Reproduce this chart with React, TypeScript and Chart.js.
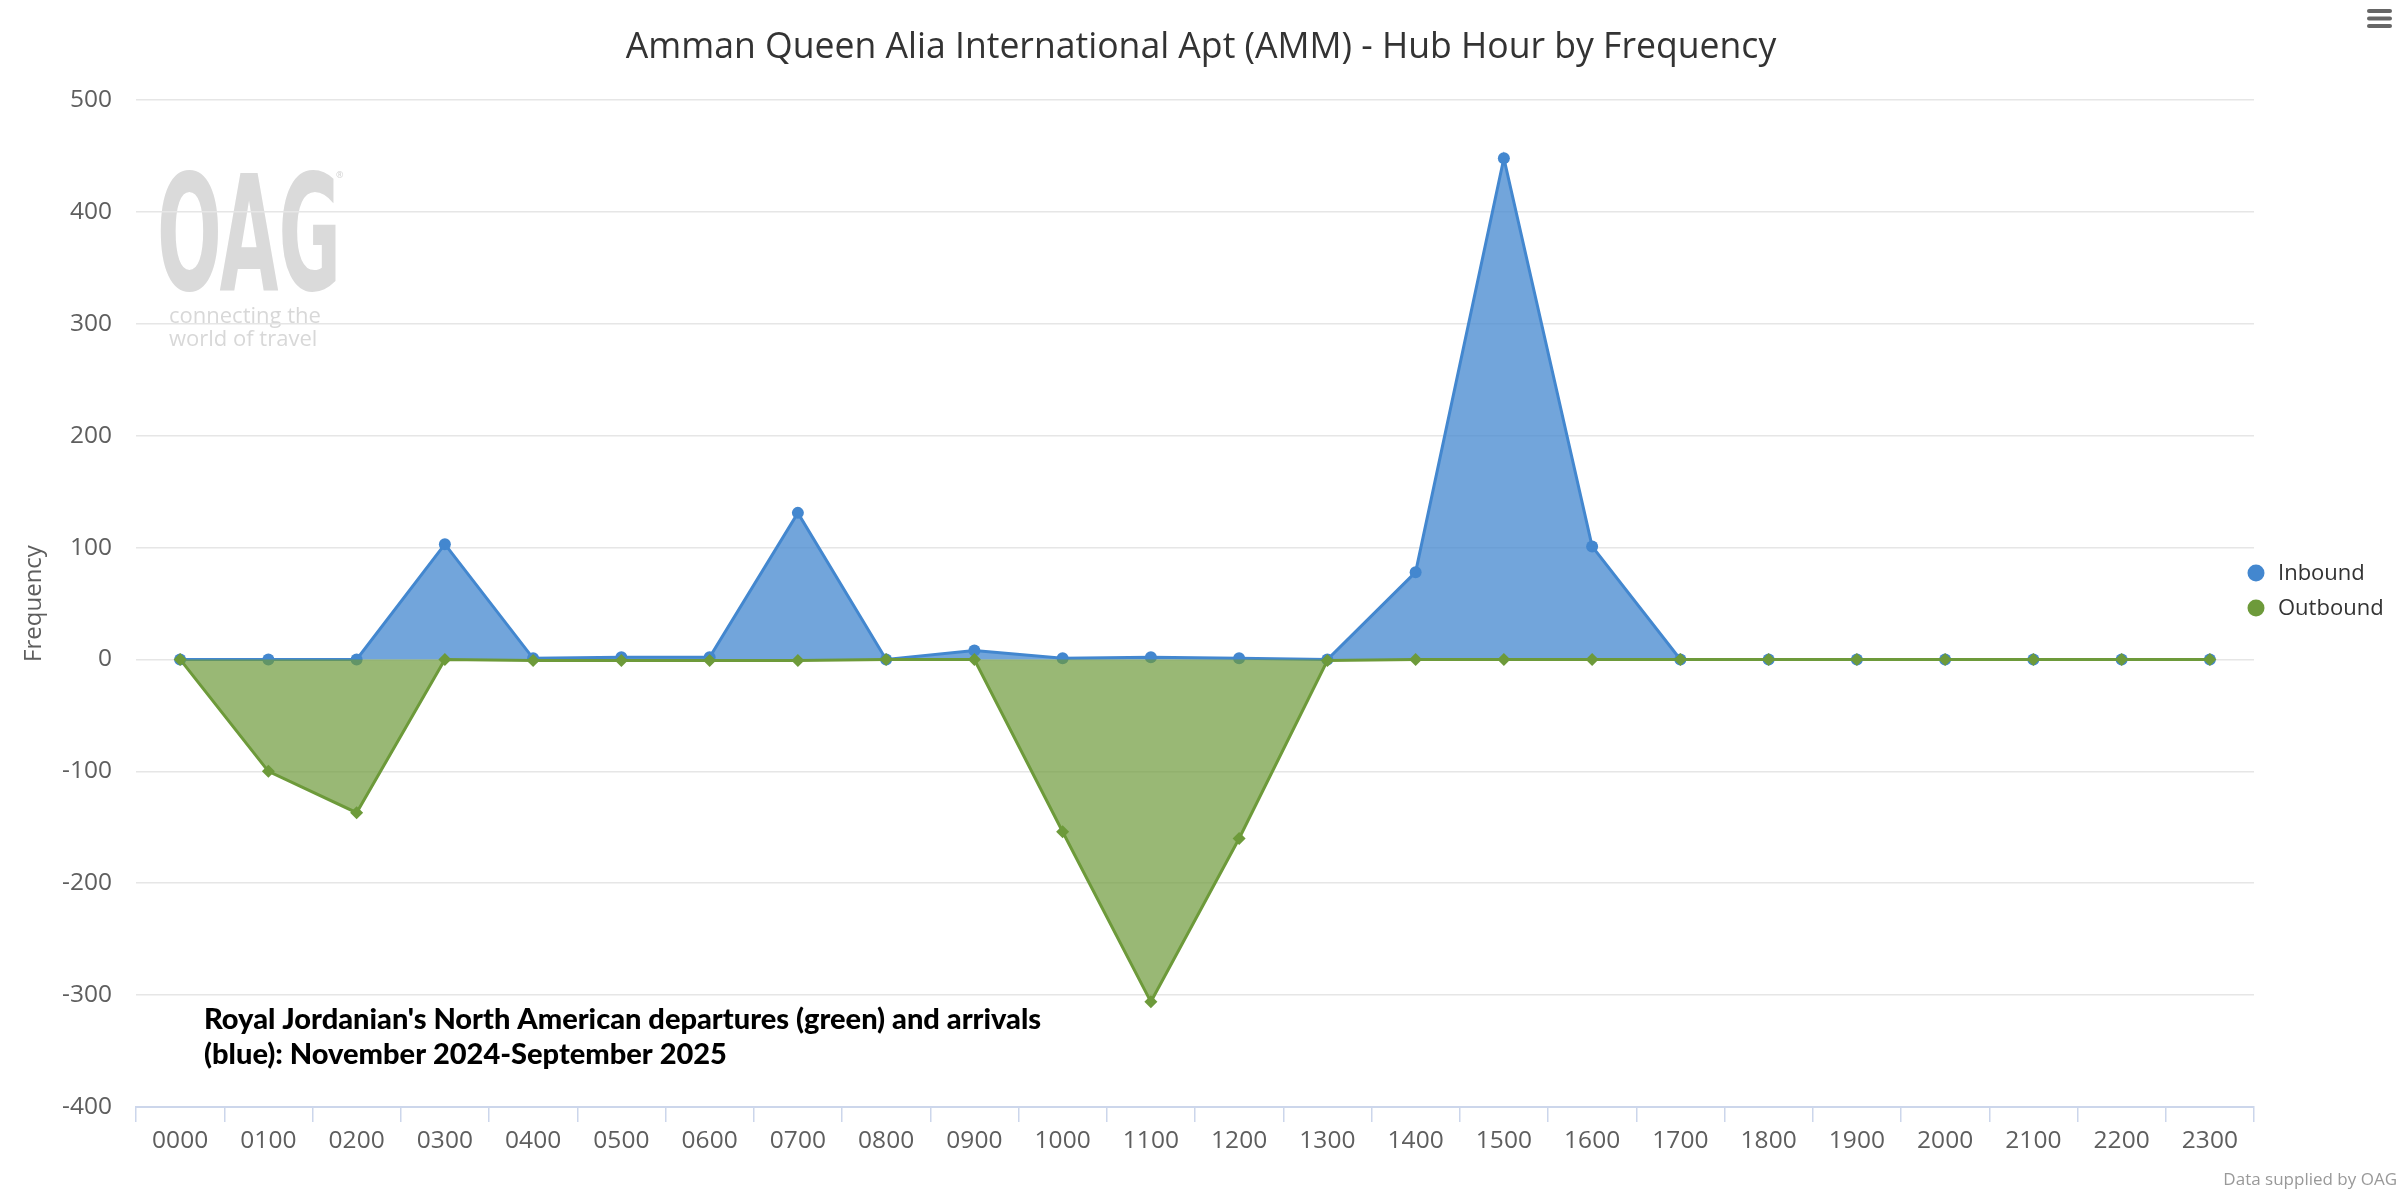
import React, { useEffect, useRef } from "react";
import { Chart, registerables } from "chart.js";

Chart.register(...registerables);

const hours = [
  "0000", "0100", "0200", "0300", "0400", "0500", "0600", "0700",
  "0800", "0900", "1000", "1100", "1200", "1300", "1400", "1500",
  "1600", "1700", "1800", "1900", "2000", "2100", "2200", "2300",
];
const inbound = [0, 0, 0, 103, 1, 2, 2, 131, 0, 8, 1, 2, 1, 0, 78, 448, 101, 0, 0, 0, 0, 0, 0, 0];
const outbound = [0, -100, -137, 0, -1, -1, -1, -1, 0, 0, -154, -306, -160, -1, 0, 0, 0, 0, 0, 0, 0, 0, 0, 0];
const seriesNames = ["Inbound", "Outbound"];
const yMin = -400;
const yMax = 500;
const yStep = 100;
const chartTitle = "Amman Queen Alia International Apt (AMM) - Hub Hour by Frequency";
const yTitle = "Frequency";
const noteLines = [
  "Royal Jordanian's North American departures (green) and arrivals",
  "(blue): November 2024-September 2025",
];
const credit = "Data supplied by OAG";
const watermarkTag = ["connecting the", "world of travel"];

const W = 2406;
const H = 1191;
const FONT = "'Open Sans', 'Noto Sans', sans-serif";

const decor = {
  id: "decor",
  beforeDraw(chart: any) {
    const ctx = chart.ctx as CanvasRenderingContext2D;
    ctx.save();
    ctx.fillStyle = "#ffffff";
    ctx.fillRect(0, 0, chart.width, chart.height);
    // OAG watermark
    ctx.fillStyle = "#dadada";
    ctx.font = `bold 160px 'DejaVu Sans Condensed', 'DejaVu Sans', sans-serif`;
    const tw = ctx.measureText("OAG").width;
    const targetW = 184;
    ctx.translate(157, 290);
    ctx.scale(targetW / tw, 1);
    ctx.textBaseline = "alphabetic";
    ctx.textAlign = "left";
    ctx.fillText("OAG", 0, 0);
    ctx.restore();
    ctx.save();
    ctx.fillStyle = "#d2d2d2";
    ctx.font = `9px ${FONT}`;
    ctx.fillText("®", 336, 178);
    ctx.font = `22px ${FONT}`;
    ctx.fillStyle = "#d8d8d8";
    ctx.textBaseline = "alphabetic";
    ctx.fillText(watermarkTag[0], 169, 323);
    ctx.fillText(watermarkTag[1], 169, 346);
    ctx.restore();
  },
  afterDraw(chart: any) {
    const ctx = chart.ctx as CanvasRenderingContext2D;
    const area = chart.chartArea;
    ctx.save();
    // Title
    ctx.fillStyle = "#333333";
    ctx.font = `35.6px ${FONT}`;
    ctx.textAlign = "center";
    ctx.textBaseline = "middle";
    ctx.fillText(chartTitle, chart.width / 2 - 2, 48);

    // Legend
    ctx.textAlign = "left";
    ctx.font = `22px ${FONT}`;
    chart.data.datasets.forEach((ds: any, i: number) => {
      const cy = 573 + i * 35;
      const cx = area.right + 2;
      ctx.beginPath();
      ctx.fillStyle = ds.borderColor;
      ctx.arc(cx, cy, 8.5, 0, Math.PI * 2);
      ctx.fill();
      ctx.fillStyle = "#333333";
      ctx.fillText(ds.label, cx + 22, cy + 1);
    });

    // Note
    ctx.fillStyle = "#000000";
    ctx.font = `900 29px Lato, ${FONT}`;
    ctx.textBaseline = "alphabetic";
    ctx.fillText(noteLines[0], 204, 1029);
    ctx.fillText(noteLines[1], 204, 1064);

    // Credit
    ctx.fillStyle = "#999999";
    ctx.font = `17px ${FONT}`;
    ctx.textAlign = "right";
    ctx.fillText(credit, 2397, 1185);

    // Menu icon
    ctx.strokeStyle = "#666666";
    ctx.lineWidth = 4;
    ctx.lineCap = "round";
    [11, 18.5, 26].forEach((y) => {
      ctx.beginPath();
      ctx.moveTo(2369, y);
      ctx.lineTo(2390, y);
      ctx.stroke();
    });
    ctx.restore();
  },
};

export default function App() {
  const ref = useRef<HTMLCanvasElement | null>(null);
  useEffect(() => {
    if (!ref.current) return;
    const chart = new Chart(ref.current, {
      type: "line",
      data: {
        labels: hours,
        datasets: [
          {
            label: seriesNames[0],
            data: inbound,
            borderColor: "#4387cf",
            backgroundColor: "rgba(67,135,207,0.75)",
            fill: "origin",
            tension: 0,
            borderWidth: 3,
            pointStyle: "circle",
            pointRadius: 6,
            pointBackgroundColor: "#4387cf",
            pointBorderWidth: 0,
            order: 1,
          },
          {
            label: seriesNames[1],
            data: outbound,
            borderColor: "#6d9a3a",
            backgroundColor: "rgba(109,154,58,0.7)",
            fill: "origin",
            tension: 0,
            borderWidth: 3,
            pointStyle: "rectRot",
            pointRadius: 6.5,
            pointBackgroundColor: "#6d9a3a",
            pointBorderWidth: 0,
            order: 0,
          },
        ],
      },
      options: {
        responsive: false,
        animation: false,
        devicePixelRatio: 1,
        layout: { padding: { top: 100, right: 152, left: 0, bottom: 0 } },
        font: { family: FONT },
        plugins: {
          legend: { display: false },
          title: { display: false },
          tooltip: { enabled: false },
        },
        scales: {
          x: {
            type: "category",
            offset: true,
            grid: {
              display: true,
              drawOnChartArea: false,
              drawTicks: true,
              tickLength: 15,
              color: "#ccd6eb",
              lineWidth: 1.5,
              offset: true,
            },
            border: { display: true, color: "#ccd6eb", width: 2 },
            ticks: {
              color: "#5e5e5e",
              font: { family: FONT, size: 24.5 },
              padding: 4,
              autoSkip: false,
              maxRotation: 0,
            },
            afterFit: (s: any) => {
              s.height = 84;
            },
          },
          y: {
            min: yMin,
            max: yMax,
            ticks: {
              stepSize: yStep,
              color: "#5e5e5e",
              font: { family: FONT, size: 24.5 },
              padding: 24,
            },
            grid: { color: "#e6e6e6", lineWidth: 1.5, drawTicks: false },
            border: { display: false },
            title: {
              display: true,
              text: yTitle,
              color: "#5e5e5e",
              font: { family: FONT, size: 24 },
              padding: { top: 20, bottom: 0 },
            },
            afterFit: (s: any) => {
              s.width = 136;
            },
          },
        },
      } as any,
      plugins: [decor],
    });
    return () => chart.destroy();
  }, []);
  return (
    <div style={{ position: "absolute", left: 0, top: 0, width: W, height: H, background: "#fff" }}>
      <canvas ref={ref} width={W} height={H} style={{ width: W, height: H, display: "block" }} />
    </div>
  );
}
